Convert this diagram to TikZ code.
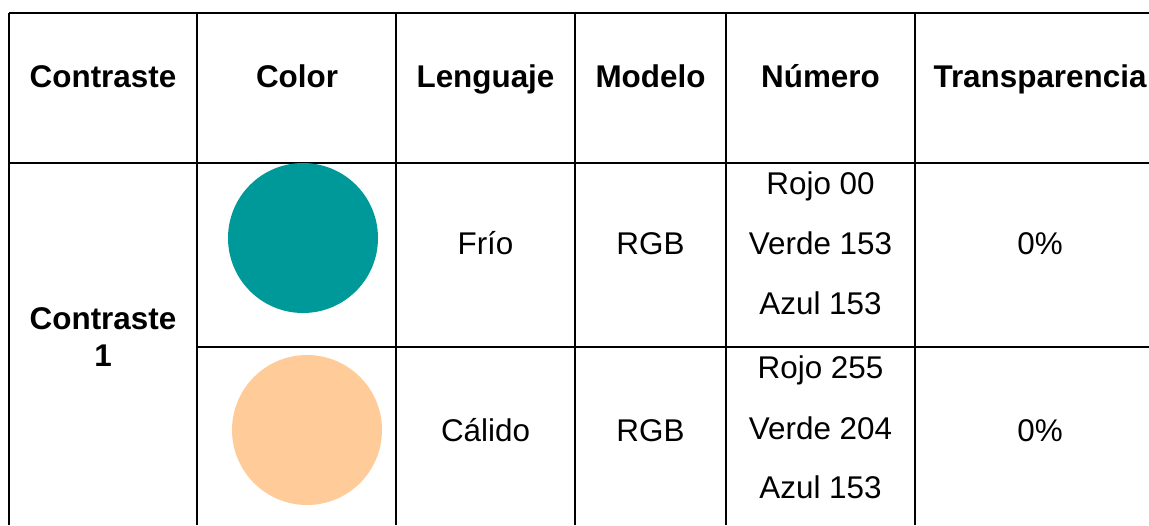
\documentclass[tikz,border=0pt]{standalone}
\usepackage{fontspec}
\setmainfont{Liberation Sans}
\definecolor{teal153}{RGB}{0,153,153}
\definecolor{peach}{RGB}{255,204,153}
\begin{document}
\begin{tikzpicture}[x=0.5pt,y=-0.5pt,
  grid/.style={line width=1.25pt,black},
  head/.style={anchor=base,inner sep=0pt,font=\fontsize{15.7}{18}\selectfont\bfseries},
  cell/.style={anchor=base,inner sep=0pt,font=\fontsize{15.7}{18}\selectfont},
  dot/.style={circle,inner sep=0pt,minimum size=75pt}]
\useasboundingbox (0,0) rectangle (1149,525);
\clip (0,0) rectangle (1149,525);
% grid
\draw[grid] (9,13) -- (1149,13);
\draw[grid] (9,163) -- (1149,163);
\draw[grid] (197,347) -- (1149,347);
\foreach \x in {9,197,396,575,726,915}
  \draw[grid] (\x,13) -- (\x,525);
% headers
\node[head] (h1) at (103,87) {Contraste};
\node[head] (h2) at (297,87) {Color};
\node[head] (h3) at (485.5,87) {Lenguaje};
\node[head] (h4) at (650.5,87) {Modelo};
\node[head] (h5) at (820.5,87) {Número};
\node[head] (h6) at (1040,87) {Transparencia};
% contrast label
\node[head] (c1a) at (103,329) {Contraste};
\node[head] (c1b) at (103,366) {1};
% row 1
\node[dot,fill=teal153] (d1) at (303,238) {};
\node[cell] (l1) at (485.5,254) {Frío};
\node[cell] (m1) at (650.5,254) {RGB};
\node[cell] (n1a) at (820.5,194) {Rojo 00};
\node[cell] (n1b) at (820.5,254) {Verde 153};
\node[cell] (n1c) at (820.5,314) {Azul 153};
\node[cell] (t1) at (1040,254) {0\%};
% row 2
\node[dot,fill=peach] (d2) at (307,430) {};
\node[cell] (l2) at (485.5,441) {Cálido};
\node[cell] (m2) at (650.5,441) {RGB};
\node[cell] (n2a) at (820.5,378) {Rojo 255};
\node[cell] (n2b) at (820.5,439) {Verde 204};
\node[cell] (n2c) at (820.5,498) {Azul 153};
\node[cell] (t2) at (1040,441) {0\%};
\end{tikzpicture}
\end{document}
